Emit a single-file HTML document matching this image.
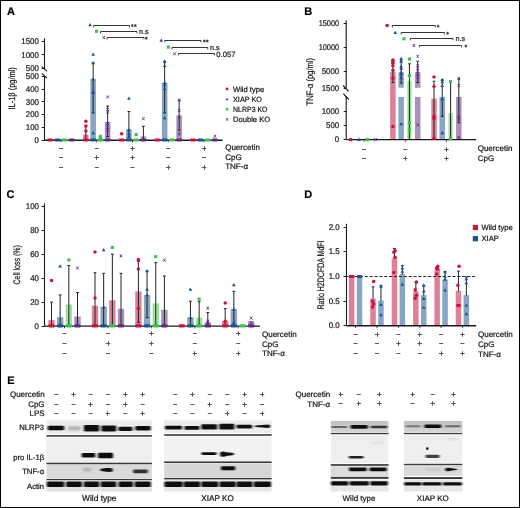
<!DOCTYPE html><html><head><meta charset="utf-8"><style>html,body{margin:0;padding:0;background:#fff}svg{display:block;will-change:transform}text{stroke:#1a1a1a;stroke-width:0.22px}</style></head><body><svg width="520" height="508" viewBox="0 0 520 508" font-family="Liberation Sans, sans-serif" text-rendering="geometricPrecision">
<rect x="0" y="0" width="520" height="508" fill="#fff" />
<defs><filter id="bl" x="-20%" y="-100%" width="140%" height="300%"><feGaussianBlur stdDeviation="0.95 0.55"/></filter><filter id="bl2" x="-20%" y="-100%" width="140%" height="300%"><feGaussianBlur stdDeviation="0.9"/></filter><linearGradient id="g1" x1="0" y1="0" x2="0" y2="1"><stop offset="0" stop-color="#c0c0c0"/><stop offset="0.4" stop-color="#c9c9c9"/><stop offset="1" stop-color="#d6d6d6"/></linearGradient></defs>
<text x="7" y="14.7" font-size="11" font-weight="bold" >A</text>
<text x="304.3" y="14.9" font-size="11" font-weight="bold" >B</text>
<text x="6.6" y="197.6" font-size="11" font-weight="bold" >C</text>
<text x="304.3" y="197.9" font-size="11" font-weight="bold" >D</text>
<text x="7.2" y="383.7" font-size="11" font-weight="bold" >E</text>
<line x1="44.5" y1="38.2" x2="44.5" y2="69.3" stroke="#1a1a1a" stroke-width="1.1" />
<line x1="44.5" y1="75.6" x2="44.5" y2="140.2" stroke="#1a1a1a" stroke-width="1.1" />
<line x1="41.9" y1="66.65" x2="46.9" y2="71.45" stroke="#1a1a1a" stroke-width="1.15" />
<line x1="41.9" y1="73.35" x2="46.9" y2="78.15" stroke="#1a1a1a" stroke-width="1.15" />
<line x1="41.7" y1="140.5" x2="44.5" y2="140.5" stroke="#1a1a1a" stroke-width="1" />
<text transform="translate(38.9,142.8) scale(0.95,1)" x="0" y="0" font-size="8.3" text-anchor="end" fill="#1a1a1a" >0</text>
<line x1="41.7" y1="127.5" x2="44.5" y2="127.5" stroke="#1a1a1a" stroke-width="1" />
<text transform="translate(38.9,130.06) scale(0.95,1)" x="0" y="0" font-size="8.3" text-anchor="end" fill="#1a1a1a" >100</text>
<line x1="41.7" y1="114.5" x2="44.5" y2="114.5" stroke="#1a1a1a" stroke-width="1" />
<text transform="translate(38.9,117.32) scale(0.95,1)" x="0" y="0" font-size="8.3" text-anchor="end" fill="#1a1a1a" >200</text>
<line x1="41.7" y1="101.5" x2="44.5" y2="101.5" stroke="#1a1a1a" stroke-width="1" />
<text transform="translate(38.9,104.58) scale(0.95,1)" x="0" y="0" font-size="8.3" text-anchor="end" fill="#1a1a1a" >300</text>
<line x1="41.7" y1="89.5" x2="44.5" y2="89.5" stroke="#1a1a1a" stroke-width="1" />
<text transform="translate(38.9,91.84) scale(0.95,1)" x="0" y="0" font-size="8.3" text-anchor="end" fill="#1a1a1a" >400</text>
<line x1="41.7" y1="76.5" x2="44.5" y2="76.5" stroke="#1a1a1a" stroke-width="1" />
<text transform="translate(38.9,78.7) scale(0.95,1)" x="0" y="0" font-size="8.3" text-anchor="end" fill="#1a1a1a" >500</text>
<line x1="41.7" y1="68.5" x2="44.5" y2="68.5" stroke="#1a1a1a" stroke-width="1" />
<text transform="translate(38.9,71) scale(0.95,1)" x="0" y="0" font-size="8.3" text-anchor="end" fill="#1a1a1a" >500</text>
<line x1="41.7" y1="54.5" x2="44.5" y2="54.5" stroke="#1a1a1a" stroke-width="1" />
<text transform="translate(38.9,57.5) scale(0.95,1)" x="0" y="0" font-size="8.3" text-anchor="end" fill="#1a1a1a" >1000</text>
<line x1="41.7" y1="41.5" x2="44.5" y2="41.5" stroke="#1a1a1a" stroke-width="1" />
<text transform="translate(38.9,43.8) scale(0.95,1)" x="0" y="0" font-size="8.3" text-anchor="end" fill="#1a1a1a" >1500</text>
<text transform="translate(15.3,88.35) rotate(-90) scale(0.8,1)" x="0" y="0" font-size="9.3" text-anchor="middle" fill="#1a1a1a">IL-1β (pg/ml)</text>
<rect x="83.05" y="134.59" width="5.6" height="5.61" fill="#de8196" />
<rect x="90.35" y="79.05" width="5.6" height="61.15" fill="#87a5c4" />
<rect x="104.85" y="121.98" width="5.6" height="18.22" fill="#aa8fbc" />
<rect x="97.55" y="139.18" width="5.6" height="1.02" fill="#9fe29f" />
<rect x="126.1" y="129.24" width="5.6" height="10.96" fill="#87a5c4" />
<rect x="140.6" y="136.38" width="5.6" height="3.82" fill="#aa8fbc" />
<rect x="118.8" y="139.18" width="5.6" height="1.02" fill="#de8196" />
<rect x="133.3" y="139.18" width="5.6" height="1.02" fill="#9fe29f" />
<rect x="161.85" y="82.87" width="5.6" height="57.33" fill="#87a5c4" />
<rect x="176.35" y="115.74" width="5.6" height="24.46" fill="#aa8fbc" />
<line x1="93.15" y1="62.9" x2="93.15" y2="112.9" stroke="#222" stroke-width="1" />
<line x1="91.75" y1="62.9" x2="94.55" y2="62.9" stroke="#222" stroke-width="1" />
<line x1="91.75" y1="112.9" x2="94.55" y2="112.9" stroke="#222" stroke-width="1" />
<line x1="107.65" y1="106" x2="107.65" y2="136.5" stroke="#222" stroke-width="1" />
<line x1="106.25" y1="106" x2="109.05" y2="106" stroke="#222" stroke-width="1" />
<line x1="106.25" y1="136.5" x2="109.05" y2="136.5" stroke="#222" stroke-width="1" />
<line x1="128.9" y1="111.5" x2="128.9" y2="138" stroke="#222" stroke-width="1" />
<line x1="127.5" y1="111.5" x2="130.3" y2="111.5" stroke="#222" stroke-width="1" />
<line x1="143.4" y1="126.3" x2="143.4" y2="139" stroke="#222" stroke-width="1" />
<line x1="142" y1="126.3" x2="144.8" y2="126.3" stroke="#222" stroke-width="1" />
<line x1="164.65" y1="62.2" x2="164.65" y2="112.9" stroke="#222" stroke-width="1" />
<line x1="163.25" y1="62.2" x2="166.05" y2="62.2" stroke="#222" stroke-width="1" />
<line x1="163.25" y1="112.9" x2="166.05" y2="112.9" stroke="#222" stroke-width="1" />
<line x1="179.15" y1="100.4" x2="179.15" y2="130.2" stroke="#222" stroke-width="1" />
<line x1="177.75" y1="100.4" x2="180.55" y2="100.4" stroke="#222" stroke-width="1" />
<line x1="177.75" y1="130.2" x2="180.55" y2="130.2" stroke="#222" stroke-width="1" />
<line x1="85.85" y1="126" x2="85.85" y2="139" stroke="#222" stroke-width="1" />
<line x1="44.5" y1="140.2" x2="222.7" y2="140.2" stroke="#1a1a1a" stroke-width="1.4" />
<line x1="61" y1="140.2" x2="61" y2="142.4" stroke="#1a1a1a" stroke-width="0.8" />
<line x1="96.75" y1="140.2" x2="96.75" y2="142.4" stroke="#1a1a1a" stroke-width="0.8" />
<line x1="132.5" y1="140.2" x2="132.5" y2="142.4" stroke="#1a1a1a" stroke-width="0.8" />
<line x1="168.25" y1="140.2" x2="168.25" y2="142.4" stroke="#1a1a1a" stroke-width="0.8" />
<line x1="204" y1="140.2" x2="204" y2="142.4" stroke="#1a1a1a" stroke-width="0.8" />
<rect x="47.1" y="138.4" width="6" height="3.2" rx="1.3" fill="#d0103a"/>
<rect x="54.4" y="138.4" width="6" height="3.2" rx="1.3" fill="#1b4f98"/>
<rect x="61.6" y="138.4" width="6" height="3.2" rx="1.3" fill="#35c445"/>
<rect x="68.9" y="138.4" width="6" height="3.2" rx="1.3" fill="#5e2a88"/>
<rect x="82.85" y="138.4" width="6" height="3.2" rx="1.3" fill="#d0103a"/>
<rect x="90.15" y="138.4" width="6" height="3.2" rx="1.3" fill="#1b4f98"/>
<rect x="97.35" y="138.4" width="6" height="3.2" rx="1.3" fill="#35c445"/>
<rect x="104.65" y="138.4" width="6" height="3.2" rx="1.3" fill="#5e2a88"/>
<rect x="118.6" y="138.4" width="6" height="3.2" rx="1.3" fill="#d0103a"/>
<rect x="125.9" y="138.4" width="6" height="3.2" rx="1.3" fill="#1b4f98"/>
<rect x="133.1" y="138.4" width="6" height="3.2" rx="1.3" fill="#35c445"/>
<rect x="140.4" y="138.4" width="6" height="3.2" rx="1.3" fill="#5e2a88"/>
<rect x="154.35" y="138.4" width="6" height="3.2" rx="1.3" fill="#d0103a"/>
<rect x="161.65" y="138.4" width="6" height="3.2" rx="1.3" fill="#1b4f98"/>
<rect x="168.85" y="138.4" width="6" height="3.2" rx="1.3" fill="#35c445"/>
<rect x="176.15" y="138.4" width="6" height="3.2" rx="1.3" fill="#5e2a88"/>
<rect x="190.1" y="138.4" width="6" height="3.2" rx="1.3" fill="#d0103a"/>
<rect x="197.4" y="138.4" width="6" height="3.2" rx="1.3" fill="#1b4f98"/>
<rect x="204.6" y="138.4" width="6" height="3.2" rx="1.3" fill="#35c445"/>
<rect x="211.9" y="138.4" width="6" height="3.2" rx="1.3" fill="#5e2a88"/>
<circle cx="85.85" cy="121.3" r="1.75" fill="#d0103a"/>
<circle cx="85.85" cy="125.9" r="1.75" fill="#d0103a"/>
<circle cx="85.85" cy="130.9" r="1.75" fill="#d0103a"/>
<path d="M93.15 52.58L95 55.78L91.3 55.78Z" fill="#1b4f98"/>
<path d="M93.15 61.08L95 64.28L91.3 64.28Z" fill="#1b4f98"/>
<path d="M93.15 77.28L95 80.48L91.3 80.48Z" fill="#1b4f98"/>
<path d="M93.15 89.78L95 92.98L91.3 92.98Z" fill="#1b4f98"/>
<path d="M93.15 90.78L95 93.98L91.3 93.98Z" fill="#1b4f98"/>
<path d="M93.15 131.08L95 134.28L91.3 134.28Z" fill="#1b4f98"/>
<rect x="98.8" y="134.83" width="3.1" height="3.1" fill="#35c445" />
<rect x="98.8" y="136.74" width="3.1" height="3.1" fill="#35c445" />
<path d="M106.45 95.5L108.85 98.5M108.85 95.5L106.45 98.5" stroke="#5e2a88" stroke-width="0.9" fill="none"/>
<path d="M106.45 108.1L108.85 111.1M108.85 108.1L106.45 111.1" stroke="#5e2a88" stroke-width="0.9" fill="none"/>
<path d="M106.45 110.5L108.85 113.5M108.85 110.5L106.45 113.5" stroke="#5e2a88" stroke-width="0.9" fill="none"/>
<path d="M106.45 122L108.85 125M108.85 122L106.45 125" stroke="#5e2a88" stroke-width="0.9" fill="none"/>
<path d="M106.45 125.8L108.85 128.8M108.85 125.8L106.45 128.8" stroke="#5e2a88" stroke-width="0.9" fill="none"/>
<path d="M106.45 128.7L108.85 131.7M108.85 128.7L106.45 131.7" stroke="#5e2a88" stroke-width="0.9" fill="none"/>
<circle cx="121.6" cy="133.7" r="1.75" fill="#d0103a"/>
<path d="M128.9 96.58L130.75 99.78L127.05 99.78Z" fill="#1b4f98"/>
<path d="M128.9 128.08L130.75 131.28L127.05 131.28Z" fill="#1b4f98"/>
<path d="M128.9 132.08L130.75 135.28L127.05 135.28Z" fill="#1b4f98"/>
<path d="M128.9 135.08L130.75 138.28L127.05 138.28Z" fill="#1b4f98"/>
<rect x="134.55" y="133.05" width="3.1" height="3.1" fill="#35c445" />
<path d="M142.2 117.2L144.6 120.2M144.6 117.2L142.2 120.2" stroke="#5e2a88" stroke-width="0.9" fill="none"/>
<path d="M164.65 59.28L166.5 62.48L162.8 62.48Z" fill="#1b4f98"/>
<path d="M164.65 63.88L166.5 67.08L162.8 67.08Z" fill="#1b4f98"/>
<path d="M164.65 80.78L166.5 83.98L162.8 83.98Z" fill="#1b4f98"/>
<path d="M164.65 83.08L166.5 86.28L162.8 86.28Z" fill="#1b4f98"/>
<path d="M164.65 86.88L166.5 90.08L162.8 90.08Z" fill="#1b4f98"/>
<path d="M164.65 110.08L166.5 113.28L162.8 113.28Z" fill="#1b4f98"/>
<path d="M164.65 116.08L166.5 119.28L162.8 119.28Z" fill="#1b4f98"/>
<path d="M177.95 98.5L180.35 101.5M180.35 98.5L177.95 101.5" stroke="#5e2a88" stroke-width="0.9" fill="none"/>
<path d="M177.95 108.9L180.35 111.9M180.35 108.9L177.95 111.9" stroke="#5e2a88" stroke-width="0.9" fill="none"/>
<path d="M177.95 115.2L180.35 118.2M180.35 115.2L177.95 118.2" stroke="#5e2a88" stroke-width="0.9" fill="none"/>
<path d="M177.95 132.5L180.35 135.5M180.35 132.5L177.95 135.5" stroke="#5e2a88" stroke-width="0.9" fill="none"/>
<path d="M213.7 134.8L216.1 137.8M216.1 134.8L213.7 137.8" stroke="#5e2a88" stroke-width="0.9" fill="none"/>
<path d="M90 23.08L91.85 26.28L88.15 26.28Z" fill="#1b4f98"/>
<path d="M93.7 27.3V25.5H129.5V27.3" stroke="#2a2a2a" stroke-width="0.95" fill="none"/>
<path d="M132.3 24.1L132.3 27.1M131 24.85L133.6 26.35M131 26.35L133.6 24.85" stroke="#333" stroke-width="0.85" fill="none"/>
<path d="M135.3 24.1L135.3 27.1M134 24.85L136.6 26.35M134 26.35L136.6 24.85" stroke="#333" stroke-width="0.85" fill="none"/>
<rect x="94.95" y="29.75" width="3.1" height="3.1" fill="#35c445" />
<path d="M100.5 33.3V31.5H137V33.3" stroke="#2a2a2a" stroke-width="0.95" fill="none"/>
<text x="139" y="33.7" font-size="7.2" fill="#333" >n.s</text>
<path d="M102.6 36.1L105 39.1M105 36.1L102.6 39.1" stroke="#5e2a88" stroke-width="0.9" fill="none"/>
<path d="M107 39.3V37.5H144V39.3" stroke="#2a2a2a" stroke-width="0.95" fill="none"/>
<path d="M146.3 36.7L146.3 39.7M145 37.45L147.6 38.95M145 38.95L147.6 37.45" stroke="#333" stroke-width="0.85" fill="none"/>
<path d="M161.2 38.48L163.05 41.68L159.35 41.68Z" fill="#1b4f98"/>
<path d="M164.8 42.3V40.5H201V42.3" stroke="#2a2a2a" stroke-width="0.95" fill="none"/>
<path d="M204.3 39.5L204.3 42.5M203 40.25L205.6 41.75M203 41.75L205.6 40.25" stroke="#333" stroke-width="0.85" fill="none"/>
<path d="M207.3 39.5L207.3 42.5M206 40.25L208.6 41.75M206 41.75L208.6 40.25" stroke="#333" stroke-width="0.85" fill="none"/>
<rect x="166.75" y="45.55" width="3.1" height="3.1" fill="#35c445" />
<path d="M172 49.3V47.5H207.7V49.3" stroke="#2a2a2a" stroke-width="0.95" fill="none"/>
<text x="210" y="49.5" font-size="7.2" fill="#333" >n.s</text>
<path d="M173.4 52.3L175.8 55.3M175.8 52.3L173.4 55.3" stroke="#5e2a88" stroke-width="0.9" fill="none"/>
<path d="M178.5 55.3V53.5H214.4V55.3" stroke="#2a2a2a" stroke-width="0.95" fill="none"/>
<text x="216.3" y="57.2" font-size="7.7" fill="#222" >0.057</text>
<circle cx="227.1" cy="89" r="1.4" fill="#d0103a"/>
<text x="233" y="91.7" font-size="7.6" fill="#111" >Wild type</text>
<path d="M227.1 97.66L228.58 100.22L225.62 100.22Z" fill="#1b4f98"/>
<text transform="translate(233,101.9) scale(0.96,1)" x="0" y="0" font-size="7.6" fill="#111" >XIAP KO</text>
<rect x="225.86" y="107.96" width="2.48" height="2.48" fill="#35c445" />
<text transform="translate(233,111.9) scale(0.92,1)" x="0" y="0" font-size="7.6" fill="#111" >NLRP3 KO</text>
<path d="M226.14 118.2L228.06 120.6M228.06 118.2L226.14 120.6" stroke="#5e2a88" stroke-width="0.9" fill="none"/>
<text x="233" y="122.1" font-size="7.6" fill="#111" >Double KO</text>
<line x1="59" y1="148.5" x2="63" y2="148.5" stroke="#5a5a5a" stroke-width="1" />
<line x1="94.75" y1="148.5" x2="98.75" y2="148.5" stroke="#5a5a5a" stroke-width="1" />
<line x1="130.3" y1="148.5" x2="134.7" y2="148.5" stroke="#555" stroke-width="1" />
<line x1="132.5" y1="146.3" x2="132.5" y2="150.7" stroke="#555" stroke-width="1" />
<line x1="166.25" y1="148.5" x2="170.25" y2="148.5" stroke="#5a5a5a" stroke-width="1" />
<line x1="201.8" y1="148.5" x2="206.2" y2="148.5" stroke="#555" stroke-width="1" />
<line x1="204.5" y1="146.3" x2="204.5" y2="150.7" stroke="#555" stroke-width="1" />
<line x1="59" y1="157.5" x2="63" y2="157.5" stroke="#5a5a5a" stroke-width="1" />
<line x1="94.55" y1="157.5" x2="98.95" y2="157.5" stroke="#555" stroke-width="1" />
<line x1="96.5" y1="155.3" x2="96.5" y2="159.7" stroke="#555" stroke-width="1" />
<line x1="130.3" y1="157.5" x2="134.7" y2="157.5" stroke="#555" stroke-width="1" />
<line x1="132.5" y1="155.3" x2="132.5" y2="159.7" stroke="#555" stroke-width="1" />
<line x1="166.25" y1="157.5" x2="170.25" y2="157.5" stroke="#5a5a5a" stroke-width="1" />
<line x1="202" y1="157.5" x2="206" y2="157.5" stroke="#5a5a5a" stroke-width="1" />
<line x1="59" y1="167.5" x2="63" y2="167.5" stroke="#5a5a5a" stroke-width="1" />
<line x1="94.75" y1="167.5" x2="98.75" y2="167.5" stroke="#5a5a5a" stroke-width="1" />
<line x1="130.5" y1="167.5" x2="134.5" y2="167.5" stroke="#5a5a5a" stroke-width="1" />
<line x1="166.05" y1="167.5" x2="170.45" y2="167.5" stroke="#555" stroke-width="1" />
<line x1="168.5" y1="165.3" x2="168.5" y2="169.7" stroke="#555" stroke-width="1" />
<line x1="201.8" y1="167.5" x2="206.2" y2="167.5" stroke="#555" stroke-width="1" />
<line x1="204.5" y1="165.3" x2="204.5" y2="169.7" stroke="#555" stroke-width="1" />
<text x="225.2" y="150.3" font-size="8" fill="#111" >Quercetin</text>
<text x="225.2" y="159.8" font-size="8" fill="#111" >CpG</text>
<text x="225.2" y="169.2" font-size="8" fill="#111" >TNF-α</text>
<line x1="346.2" y1="20.5" x2="346.2" y2="88.5" stroke="#3a3a3a" stroke-width="1.3" />
<line x1="346.2" y1="96.5" x2="346.2" y2="139.6" stroke="#3a3a3a" stroke-width="1.3" />
<line x1="343.1" y1="85.5" x2="348.6" y2="91.4" stroke="#1a1a1a" stroke-width="1.15" />
<line x1="343.3" y1="93.6" x2="348.8" y2="99.5" stroke="#1a1a1a" stroke-width="1.15" />
<line x1="343.7" y1="139.5" x2="346.5" y2="139.5" stroke="#1a1a1a" stroke-width="1" />
<text transform="translate(339.2,142.2) scale(0.95,1)" x="0" y="0" font-size="8.3" text-anchor="end" fill="#1a1a1a" >0</text>
<line x1="343.7" y1="125.5" x2="346.5" y2="125.5" stroke="#1a1a1a" stroke-width="1" />
<text transform="translate(339.2,128) scale(0.95,1)" x="0" y="0" font-size="8.3" text-anchor="end" fill="#1a1a1a" >500</text>
<line x1="343.7" y1="111.5" x2="346.5" y2="111.5" stroke="#1a1a1a" stroke-width="1" />
<text transform="translate(339.2,113.9) scale(0.95,1)" x="0" y="0" font-size="8.3" text-anchor="end" fill="#1a1a1a" >1000</text>
<line x1="343.7" y1="88.5" x2="346.5" y2="88.5" stroke="#1a1a1a" stroke-width="1" />
<text transform="translate(339.2,90.9) scale(0.95,1)" x="0" y="0" font-size="8.3" text-anchor="end" fill="#1a1a1a" >1500</text>
<line x1="343.7" y1="71.5" x2="346.5" y2="71.5" stroke="#1a1a1a" stroke-width="1" />
<text transform="translate(339.2,74.1) scale(0.95,1)" x="0" y="0" font-size="8.3" text-anchor="end" fill="#1a1a1a" >5000</text>
<line x1="343.7" y1="47.5" x2="346.5" y2="47.5" stroke="#1a1a1a" stroke-width="1" />
<text transform="translate(339.2,49.9) scale(0.89,1)" x="0" y="0" font-size="8.3" text-anchor="end" fill="#1a1a1a" >10000</text>
<line x1="343.7" y1="23.5" x2="346.5" y2="23.5" stroke="#1a1a1a" stroke-width="1" />
<text transform="translate(339.2,26.3) scale(0.89,1)" x="0" y="0" font-size="8.3" text-anchor="end" fill="#1a1a1a" >15000</text>
<text transform="translate(312.8,81.65) rotate(-90) scale(0.8,1)" x="0" y="0" font-size="9.5" text-anchor="middle" fill="#1a1a1a">TNF-α (pg/ml)</text>
<rect x="390.15" y="71.8" width="5.5" height="67.8" fill="#de8196" />
<rect x="398.4" y="72.3" width="5.5" height="15.4" fill="#87a5c4" />
<rect x="398.4" y="97" width="5.5" height="42.6" fill="#87a5c4" />
<rect x="407.35" y="80.8" width="4.2" height="58.8" fill="#9fe29f" />
<rect x="414.95" y="72.3" width="5.5" height="15.4" fill="#aa8fbc" />
<rect x="414.95" y="97" width="5.5" height="42.6" fill="#aa8fbc" />
<rect x="431.25" y="98.7" width="5.5" height="40.9" fill="#de8196" />
<rect x="439.5" y="96.9" width="5.5" height="42.7" fill="#87a5c4" />
<rect x="448.45" y="113" width="4.2" height="26.6" fill="#9fe29f" />
<rect x="456.05" y="96.9" width="5.5" height="42.7" fill="#aa8fbc" />
<line x1="392.9" y1="60.3" x2="392.9" y2="82.6" stroke="#222" stroke-width="1" />
<line x1="391.5" y1="60.3" x2="394.3" y2="60.3" stroke="#222" stroke-width="1" />
<line x1="391.5" y1="82.6" x2="394.3" y2="82.6" stroke="#222" stroke-width="1" />
<line x1="401.15" y1="60.8" x2="401.15" y2="83.1" stroke="#222" stroke-width="1" />
<line x1="399.75" y1="60.8" x2="402.55" y2="60.8" stroke="#222" stroke-width="1" />
<line x1="399.75" y1="83.1" x2="402.55" y2="83.1" stroke="#222" stroke-width="1" />
<line x1="409.45" y1="63.8" x2="409.45" y2="139.6" stroke="#333" stroke-width="1.1" />
<line x1="408.05" y1="63.8" x2="410.85" y2="63.8" stroke="#333" stroke-width="1.1" />
<line x1="417.7" y1="61.2" x2="417.7" y2="82.6" stroke="#222" stroke-width="1" />
<line x1="416.3" y1="61.2" x2="419.1" y2="61.2" stroke="#222" stroke-width="1" />
<line x1="416.3" y1="82.6" x2="419.1" y2="82.6" stroke="#222" stroke-width="1" />
<line x1="434" y1="81.2" x2="434" y2="139.6" stroke="#222" stroke-width="1" />
<line x1="432.6" y1="81.2" x2="435.4" y2="81.2" stroke="#222" stroke-width="1" />
<line x1="442.25" y1="79.8" x2="442.25" y2="116.3" stroke="#222" stroke-width="1" />
<line x1="440.85" y1="79.8" x2="443.65" y2="79.8" stroke="#222" stroke-width="1" />
<line x1="440.85" y1="116.3" x2="443.65" y2="116.3" stroke="#222" stroke-width="1" />
<line x1="450.55" y1="81.7" x2="450.55" y2="139.6" stroke="#333" stroke-width="1.1" />
<line x1="449.15" y1="81.7" x2="451.95" y2="81.7" stroke="#333" stroke-width="1.1" />
<line x1="458.8" y1="78.8" x2="458.8" y2="122.7" stroke="#222" stroke-width="1" />
<line x1="457.4" y1="78.8" x2="460.2" y2="78.8" stroke="#222" stroke-width="1" />
<line x1="457.4" y1="122.7" x2="460.2" y2="122.7" stroke="#222" stroke-width="1" />
<line x1="346.5" y1="139.6" x2="476.2" y2="139.6" stroke="#1a1a1a" stroke-width="1.4" />
<line x1="364" y1="139.6" x2="364" y2="141.8" stroke="#1a1a1a" stroke-width="0.8" />
<line x1="405.3" y1="139.6" x2="405.3" y2="141.8" stroke="#1a1a1a" stroke-width="0.8" />
<line x1="446.4" y1="139.6" x2="446.4" y2="141.8" stroke="#1a1a1a" stroke-width="0.8" />
<circle cx="350.8" cy="139.6" r="1.93" fill="#d0103a"/>
<path d="M359.05 137.49L361.09 141.01L357.01 141.01Z" fill="#1b4f98"/>
<rect x="365.64" y="137.89" width="3.41" height="3.41" fill="#35c445" />
<path d="M374.28 137.95L376.92 141.25M376.92 137.95L374.28 141.25" stroke="#5e2a88" stroke-width="0.9" fill="none"/>
<circle cx="392.9" cy="60" r="1.75" fill="#d0103a"/>
<circle cx="392.9" cy="61.5" r="1.75" fill="#d0103a"/>
<circle cx="392.9" cy="63.2" r="1.75" fill="#d0103a"/>
<circle cx="392.9" cy="65.8" r="1.75" fill="#d0103a"/>
<circle cx="392.9" cy="70.2" r="1.75" fill="#d0103a"/>
<circle cx="392.9" cy="78.2" r="1.75" fill="#d0103a"/>
<circle cx="392.9" cy="126.5" r="1.75" fill="#d0103a"/>
<path d="M401.15 56.78L403 59.98L399.3 59.98Z" fill="#1b4f98"/>
<path d="M401.15 59.58L403 62.78L399.3 62.78Z" fill="#1b4f98"/>
<path d="M401.15 64.58L403 67.78L399.3 67.78Z" fill="#1b4f98"/>
<path d="M401.15 66.78L403 69.98L399.3 69.98Z" fill="#1b4f98"/>
<path d="M401.15 70.38L403 73.58L399.3 73.58Z" fill="#1b4f98"/>
<path d="M401.15 72.08L403 75.28L399.3 75.28Z" fill="#1b4f98"/>
<path d="M401.15 76.08L403 79.28L399.3 79.28Z" fill="#1b4f98"/>
<path d="M401.15 122.08L403 125.28L399.3 125.28Z" fill="#1b4f98"/>
<rect x="407.9" y="57.45" width="3.1" height="3.1" fill="#35c445" />
<rect x="407.9" y="73.95" width="3.1" height="3.1" fill="#35c445" />
<rect x="407.9" y="121.25" width="3.1" height="3.1" fill="#35c445" />
<rect x="407.9" y="127.95" width="3.1" height="3.1" fill="#35c445" />
<path d="M416.5 54.8L418.9 57.8M418.9 54.8L416.5 57.8" stroke="#5e2a88" stroke-width="0.9" fill="none"/>
<path d="M416.5 64.1L418.9 67.1M418.9 64.1L416.5 67.1" stroke="#5e2a88" stroke-width="0.9" fill="none"/>
<path d="M416.5 66.5L418.9 69.5M418.9 66.5L416.5 69.5" stroke="#5e2a88" stroke-width="0.9" fill="none"/>
<path d="M416.5 69.5L418.9 72.5M418.9 69.5L416.5 72.5" stroke="#5e2a88" stroke-width="0.9" fill="none"/>
<path d="M416.5 72.5L418.9 75.5M418.9 72.5L416.5 75.5" stroke="#5e2a88" stroke-width="0.9" fill="none"/>
<path d="M416.5 75.6L418.9 78.6M418.9 75.6L416.5 78.6" stroke="#5e2a88" stroke-width="0.9" fill="none"/>
<path d="M416.5 123.5L418.9 126.5M418.9 123.5L416.5 126.5" stroke="#5e2a88" stroke-width="0.9" fill="none"/>
<circle cx="434" cy="76.9" r="1.75" fill="#d0103a"/>
<circle cx="434" cy="86.5" r="1.75" fill="#d0103a"/>
<circle cx="434" cy="116.5" r="1.75" fill="#d0103a"/>
<circle cx="434" cy="118.5" r="1.75" fill="#d0103a"/>
<circle cx="434" cy="138.6" r="1.75" fill="#d0103a"/>
<path d="M442.25 77.88L444.1 81.08L440.4 81.08Z" fill="#1b4f98"/>
<path d="M442.25 80.08L444.1 83.28L440.4 83.28Z" fill="#1b4f98"/>
<path d="M442.25 83.68L444.1 86.88L440.4 86.88Z" fill="#1b4f98"/>
<path d="M442.25 97.08L444.1 100.28L440.4 100.28Z" fill="#1b4f98"/>
<path d="M442.25 131.08L444.1 134.28L440.4 134.28Z" fill="#1b4f98"/>
<rect x="449" y="80.15" width="3.1" height="3.1" fill="#35c445" />
<rect x="449" y="137.25" width="3.1" height="3.1" fill="#35c445" />
<path d="M457.6 77L460 80M460 77L457.6 80" stroke="#5e2a88" stroke-width="0.9" fill="none"/>
<path d="M457.6 84.1L460 87.1M460 84.1L457.6 87.1" stroke="#5e2a88" stroke-width="0.9" fill="none"/>
<path d="M457.6 115.8L460 118.8M460 115.8L457.6 118.8" stroke="#5e2a88" stroke-width="0.9" fill="none"/>
<path d="M457.6 117.7L460 120.7M460 117.7L457.6 120.7" stroke="#5e2a88" stroke-width="0.9" fill="none"/>
<path d="M457.6 136L460 139M460 136L457.6 139" stroke="#5e2a88" stroke-width="0.9" fill="none"/>
<circle cx="387.1" cy="25.6" r="1.75" fill="#d0103a"/>
<path d="M392.3 27.3V25.5H435.3V27.3" stroke="#2a2a2a" stroke-width="0.95" fill="none"/>
<path d="M438.1 24.7L438.1 27.7M436.8 25.45L439.4 26.95M436.8 26.95L439.4 25.45" stroke="#333" stroke-width="0.85" fill="none"/>
<path d="M395.2 30.78L397.05 33.98L393.35 33.98Z" fill="#1b4f98"/>
<path d="M401.2 34.3V32.5H444.4V34.3" stroke="#2a2a2a" stroke-width="0.95" fill="none"/>
<path d="M447.6 31.8L447.6 34.8M446.3 32.55L448.9 34.05M446.3 34.05L448.9 32.55" stroke="#333" stroke-width="0.85" fill="none"/>
<rect x="402.45" y="37.25" width="3.1" height="3.1" fill="#35c445" />
<path d="M410.3 40.3V38.5H453V40.3" stroke="#2a2a2a" stroke-width="0.95" fill="none"/>
<text x="455.4" y="41.2" font-size="7.2" fill="#333" >n.s</text>
<path d="M412.8 44L415.2 47M415.2 44L412.8 47" stroke="#5e2a88" stroke-width="0.9" fill="none"/>
<path d="M419.4 47.3V45.5H461.6V47.3" stroke="#2a2a2a" stroke-width="0.95" fill="none"/>
<path d="M465.9 44.6L465.9 47.6M464.6 45.35L467.2 46.85M464.6 46.85L467.2 45.35" stroke="#333" stroke-width="0.85" fill="none"/>
<line x1="362" y1="149.5" x2="366" y2="149.5" stroke="#5a5a5a" stroke-width="1" />
<line x1="403.3" y1="149.5" x2="407.3" y2="149.5" stroke="#5a5a5a" stroke-width="1" />
<line x1="444.2" y1="149.5" x2="448.6" y2="149.5" stroke="#555" stroke-width="1" />
<line x1="446.5" y1="147.3" x2="446.5" y2="151.7" stroke="#555" stroke-width="1" />
<line x1="362" y1="158.5" x2="366" y2="158.5" stroke="#5a5a5a" stroke-width="1" />
<line x1="403.1" y1="158.5" x2="407.5" y2="158.5" stroke="#555" stroke-width="1" />
<line x1="405.5" y1="156.3" x2="405.5" y2="160.7" stroke="#555" stroke-width="1" />
<line x1="444.2" y1="158.5" x2="448.6" y2="158.5" stroke="#555" stroke-width="1" />
<line x1="446.5" y1="156.3" x2="446.5" y2="160.7" stroke="#555" stroke-width="1" />
<text x="477.7" y="150.9" font-size="8" fill="#111" >Quercetin</text>
<text x="477.7" y="161" font-size="8" fill="#111" >CpG</text>
<line x1="44.5" y1="203.4" x2="44.5" y2="326.1" stroke="#1a1a1a" stroke-width="1.1" />
<line x1="41.5" y1="326.5" x2="44.5" y2="326.5" stroke="#1a1a1a" stroke-width="1" />
<text transform="translate(38.9,328.7) scale(0.95,1)" x="0" y="0" font-size="8.3" text-anchor="end" fill="#1a1a1a" >0</text>
<line x1="41.5" y1="302.5" x2="44.5" y2="302.5" stroke="#1a1a1a" stroke-width="1" />
<text transform="translate(38.9,304.72) scale(0.95,1)" x="0" y="0" font-size="8.3" text-anchor="end" fill="#1a1a1a" >20</text>
<line x1="41.5" y1="278.5" x2="44.5" y2="278.5" stroke="#1a1a1a" stroke-width="1" />
<text transform="translate(38.9,280.74) scale(0.95,1)" x="0" y="0" font-size="8.3" text-anchor="end" fill="#1a1a1a" >40</text>
<line x1="41.5" y1="254.5" x2="44.5" y2="254.5" stroke="#1a1a1a" stroke-width="1" />
<text transform="translate(38.9,256.76) scale(0.95,1)" x="0" y="0" font-size="8.3" text-anchor="end" fill="#1a1a1a" >60</text>
<line x1="41.5" y1="230.5" x2="44.5" y2="230.5" stroke="#1a1a1a" stroke-width="1" />
<text transform="translate(38.9,232.78) scale(0.95,1)" x="0" y="0" font-size="8.3" text-anchor="end" fill="#1a1a1a" >80</text>
<line x1="41.5" y1="206.5" x2="44.5" y2="206.5" stroke="#1a1a1a" stroke-width="1" />
<text transform="translate(38.9,208.8) scale(0.95,1)" x="0" y="0" font-size="8.3" text-anchor="end" fill="#1a1a1a" >100</text>
<text transform="translate(20,264.8) rotate(-90) scale(0.74,1)" x="0" y="0" font-size="9.5" text-anchor="middle" fill="#1a1a1a">Cell loss (%)</text>
<rect x="48.3" y="320.11" width="6.4" height="6" fill="#de8196" />
<rect x="56.95" y="317.23" width="6.4" height="8.87" fill="#87a5c4" />
<rect x="65.65" y="304.52" width="6.4" height="21.58" fill="#9fe29f" />
<rect x="74.3" y="316.51" width="6.4" height="9.59" fill="#aa8fbc" />
<rect x="91.8" y="305.72" width="6.4" height="20.38" fill="#de8196" />
<rect x="100.45" y="306.92" width="6.4" height="19.18" fill="#87a5c4" />
<rect x="109.15" y="300.32" width="6.4" height="25.78" fill="#de8196" />
<rect x="117.8" y="308.71" width="6.4" height="17.39" fill="#aa8fbc" />
<rect x="135.2" y="291.33" width="6.4" height="34.77" fill="#de8196" />
<rect x="143.85" y="294.93" width="6.4" height="31.17" fill="#87a5c4" />
<rect x="152.55" y="303.32" width="6.4" height="22.78" fill="#9fe29f" />
<rect x="161.2" y="309.79" width="6.4" height="16.31" fill="#aa8fbc" />
<rect x="187.25" y="317.35" width="6.4" height="8.75" fill="#87a5c4" />
<rect x="195.95" y="317.59" width="6.4" height="8.51" fill="#9fe29f" />
<rect x="204.6" y="322.26" width="6.4" height="3.84" fill="#aa8fbc" />
<rect x="222" y="320.94" width="6.4" height="5.16" fill="#de8196" />
<rect x="230.65" y="308.95" width="6.4" height="17.15" fill="#87a5c4" />
<rect x="248" y="321.3" width="6.4" height="4.8" fill="#aa8fbc" />
<line x1="51.5" y1="302.12" x2="51.5" y2="326.1" stroke="#222" stroke-width="1" />
<line x1="50.1" y1="302.12" x2="52.9" y2="302.12" stroke="#222" stroke-width="1" />
<line x1="60.15" y1="294.93" x2="60.15" y2="326.1" stroke="#222" stroke-width="1" />
<line x1="58.75" y1="294.93" x2="61.55" y2="294.93" stroke="#222" stroke-width="1" />
<line x1="68.85" y1="265.55" x2="68.85" y2="326.1" stroke="#222" stroke-width="1" />
<line x1="67.45" y1="265.55" x2="70.25" y2="265.55" stroke="#222" stroke-width="1" />
<line x1="77.5" y1="292.53" x2="77.5" y2="326.1" stroke="#222" stroke-width="1" />
<line x1="76.1" y1="292.53" x2="78.9" y2="292.53" stroke="#222" stroke-width="1" />
<line x1="95" y1="272.74" x2="95" y2="326.1" stroke="#222" stroke-width="1" />
<line x1="93.6" y1="272.74" x2="96.4" y2="272.74" stroke="#222" stroke-width="1" />
<line x1="103.65" y1="273.34" x2="103.65" y2="326.1" stroke="#222" stroke-width="1" />
<line x1="102.25" y1="273.34" x2="105.05" y2="273.34" stroke="#222" stroke-width="1" />
<line x1="112.35" y1="254.16" x2="112.35" y2="326.1" stroke="#222" stroke-width="1" />
<line x1="110.95" y1="254.16" x2="113.75" y2="254.16" stroke="#222" stroke-width="1" />
<line x1="121" y1="273.34" x2="121" y2="326.1" stroke="#222" stroke-width="1" />
<line x1="119.6" y1="273.34" x2="122.4" y2="273.34" stroke="#222" stroke-width="1" />
<line x1="138.4" y1="260.16" x2="138.4" y2="322.3" stroke="#222" stroke-width="1" />
<line x1="137" y1="260.16" x2="139.8" y2="260.16" stroke="#222" stroke-width="1" />
<line x1="137" y1="322.3" x2="139.8" y2="322.3" stroke="#222" stroke-width="1" />
<line x1="147.05" y1="270.95" x2="147.05" y2="317.6" stroke="#222" stroke-width="1" />
<line x1="145.65" y1="270.95" x2="148.45" y2="270.95" stroke="#222" stroke-width="1" />
<line x1="145.65" y1="317.6" x2="148.45" y2="317.6" stroke="#222" stroke-width="1" />
<line x1="155.75" y1="262.55" x2="155.75" y2="326.1" stroke="#222" stroke-width="1" />
<line x1="154.35" y1="262.55" x2="157.15" y2="262.55" stroke="#222" stroke-width="1" />
<line x1="164.4" y1="275.98" x2="164.4" y2="326.1" stroke="#222" stroke-width="1" />
<line x1="163" y1="275.98" x2="165.8" y2="275.98" stroke="#222" stroke-width="1" />
<line x1="190.45" y1="301.28" x2="190.45" y2="326.1" stroke="#222" stroke-width="1" />
<line x1="189.05" y1="301.28" x2="191.85" y2="301.28" stroke="#222" stroke-width="1" />
<line x1="199.15" y1="301.64" x2="199.15" y2="326.1" stroke="#222" stroke-width="1" />
<line x1="197.75" y1="301.64" x2="200.55" y2="301.64" stroke="#222" stroke-width="1" />
<line x1="207.8" y1="312.55" x2="207.8" y2="326.1" stroke="#222" stroke-width="1" />
<line x1="206.4" y1="312.55" x2="209.2" y2="312.55" stroke="#222" stroke-width="1" />
<line x1="225.2" y1="308.59" x2="225.2" y2="326.1" stroke="#222" stroke-width="1" />
<line x1="223.8" y1="308.59" x2="226.6" y2="308.59" stroke="#222" stroke-width="1" />
<line x1="233.85" y1="291.33" x2="233.85" y2="326.1" stroke="#222" stroke-width="1" />
<line x1="232.45" y1="291.33" x2="235.25" y2="291.33" stroke="#222" stroke-width="1" />
<line x1="44.5" y1="326.1" x2="260" y2="326.1" stroke="#1a1a1a" stroke-width="1.4" />
<line x1="64.5" y1="326.1" x2="64.5" y2="328.3" stroke="#1a1a1a" stroke-width="0.8" />
<line x1="108" y1="326.1" x2="108" y2="328.3" stroke="#1a1a1a" stroke-width="0.8" />
<line x1="151.4" y1="326.1" x2="151.4" y2="328.3" stroke="#1a1a1a" stroke-width="0.8" />
<line x1="194.8" y1="326.1" x2="194.8" y2="328.3" stroke="#1a1a1a" stroke-width="0.8" />
<line x1="238.2" y1="326.1" x2="238.2" y2="328.3" stroke="#1a1a1a" stroke-width="0.8" />
<rect x="48.3" y="324.3" width="6.4" height="3.2" rx="1.3" fill="#d0103a"/>
<rect x="56.95" y="324.3" width="6.4" height="3.2" rx="1.3" fill="#1b4f98"/>
<rect x="65.65" y="324.3" width="6.4" height="3.2" rx="1.3" fill="#35c445"/>
<rect x="74.3" y="324.3" width="6.4" height="3.2" rx="1.3" fill="#5e2a88"/>
<rect x="91.8" y="324.3" width="6.4" height="3.2" rx="1.3" fill="#d0103a"/>
<rect x="100.45" y="324.3" width="6.4" height="3.2" rx="1.3" fill="#1b4f98"/>
<rect x="109.15" y="324.3" width="6.4" height="3.2" rx="1.3" fill="#35c445"/>
<rect x="117.8" y="324.3" width="6.4" height="3.2" rx="1.3" fill="#5e2a88"/>
<rect x="135.2" y="324.3" width="6.4" height="3.2" rx="1.3" fill="#d0103a"/>
<rect x="143.85" y="324.3" width="6.4" height="3.2" rx="1.3" fill="#1b4f98"/>
<rect x="152.55" y="324.3" width="6.4" height="3.2" rx="1.3" fill="#35c445"/>
<rect x="161.2" y="324.3" width="6.4" height="3.2" rx="1.3" fill="#5e2a88"/>
<rect x="178.6" y="324.3" width="6.4" height="3.2" rx="1.3" fill="#d0103a"/>
<rect x="187.25" y="324.3" width="6.4" height="3.2" rx="1.3" fill="#1b4f98"/>
<rect x="195.95" y="324.3" width="6.4" height="3.2" rx="1.3" fill="#35c445"/>
<rect x="204.6" y="324.3" width="6.4" height="3.2" rx="1.3" fill="#5e2a88"/>
<rect x="222" y="324.3" width="6.4" height="3.2" rx="1.3" fill="#d0103a"/>
<rect x="230.65" y="324.3" width="6.4" height="3.2" rx="1.3" fill="#1b4f98"/>
<rect x="239.35" y="324.3" width="6.4" height="3.2" rx="1.3" fill="#35c445"/>
<rect x="248" y="324.3" width="6.4" height="3.2" rx="1.3" fill="#5e2a88"/>
<circle cx="51.5" cy="280.54" r="1.75" fill="#d0103a"/>
<path d="M60.15 264.23L62 267.43L58.3 267.43Z" fill="#1b4f98"/>
<rect x="67.3" y="258.37" width="3.1" height="3.1" fill="#35c445" />
<path d="M76.3 266.45L78.7 269.45M78.7 266.45L76.3 269.45" stroke="#5e2a88" stroke-width="0.9" fill="none"/>
<circle cx="95" cy="252.12" r="1.75" fill="#d0103a"/>
<circle cx="95" cy="297.92" r="1.75" fill="#d0103a"/>
<path d="M103.65 248.04L105.5 251.24L101.8 251.24Z" fill="#1b4f98"/>
<path d="M103.65 305L105.5 308.2L101.8 308.2Z" fill="#1b4f98"/>
<rect x="110.8" y="245.9" width="3.1" height="3.1" fill="#35c445" />
<path d="M119.8 254.46L122.2 257.46M122.2 254.46L119.8 257.46" stroke="#5e2a88" stroke-width="0.9" fill="none"/>
<circle cx="138.4" cy="259.56" r="1.75" fill="#d0103a"/>
<circle cx="138.4" cy="260.75" r="1.75" fill="#d0103a"/>
<circle cx="138.4" cy="268.91" r="1.75" fill="#d0103a"/>
<circle cx="138.4" cy="308.47" r="1.75" fill="#d0103a"/>
<path d="M147.05 269.03L148.9 272.23L145.2 272.23Z" fill="#1b4f98"/>
<path d="M147.05 287.61L148.9 290.81L145.2 290.81Z" fill="#1b4f98"/>
<path d="M147.05 293.01L148.9 296.21L145.2 296.21Z" fill="#1b4f98"/>
<rect x="154.2" y="255.13" width="3.1" height="3.1" fill="#35c445" />
<path d="M163.2 258.66L165.6 261.66M165.6 258.66L163.2 261.66" stroke="#5e2a88" stroke-width="0.9" fill="none"/>
<path d="M190.45 287.61L192.3 290.81L188.6 290.81Z" fill="#1b4f98"/>
<path d="M190.45 315.79L192.3 318.99L188.6 318.99Z" fill="#1b4f98"/>
<rect x="197.6" y="297.57" width="3.1" height="3.1" fill="#35c445" />
<path d="M206.6 306.73L209 309.73M209 306.73L206.6 309.73" stroke="#5e2a88" stroke-width="0.9" fill="none"/>
<path d="M206.6 319.8L209 322.8M209 319.8L206.6 322.8" stroke="#5e2a88" stroke-width="0.9" fill="none"/>
<path d="M206.6 321L209 324M209 321L206.6 324" stroke="#5e2a88" stroke-width="0.9" fill="none"/>
<circle cx="225.2" cy="303.08" r="1.75" fill="#d0103a"/>
<circle cx="225.2" cy="321.3" r="1.75" fill="#d0103a"/>
<path d="M233.85 283.05L235.7 286.25L232 286.25Z" fill="#1b4f98"/>
<path d="M233.85 307.39L235.7 310.59L232 310.59Z" fill="#1b4f98"/>
<path d="M233.85 320.58L235.7 323.78L232 323.78Z" fill="#1b4f98"/>
<path d="M250 316.57L252.4 319.57M252.4 316.57L250 319.57" stroke="#5e2a88" stroke-width="0.9" fill="none"/>
<path d="M250 321L252.4 324M252.4 321L250 324" stroke="#5e2a88" stroke-width="0.9" fill="none"/>
<line x1="62.5" y1="333.5" x2="66.5" y2="333.5" stroke="#5a5a5a" stroke-width="1" />
<line x1="106" y1="333.5" x2="110" y2="333.5" stroke="#5a5a5a" stroke-width="1" />
<line x1="149.2" y1="333.5" x2="153.6" y2="333.5" stroke="#555" stroke-width="1" />
<line x1="151.5" y1="331.3" x2="151.5" y2="335.7" stroke="#555" stroke-width="1" />
<line x1="192.8" y1="333.5" x2="196.8" y2="333.5" stroke="#5a5a5a" stroke-width="1" />
<line x1="236" y1="333.5" x2="240.4" y2="333.5" stroke="#555" stroke-width="1" />
<line x1="238.5" y1="331.3" x2="238.5" y2="335.7" stroke="#555" stroke-width="1" />
<line x1="62.5" y1="343.5" x2="66.5" y2="343.5" stroke="#5a5a5a" stroke-width="1" />
<line x1="105.8" y1="343.5" x2="110.2" y2="343.5" stroke="#555" stroke-width="1" />
<line x1="108.5" y1="341.3" x2="108.5" y2="345.7" stroke="#555" stroke-width="1" />
<line x1="149.2" y1="343.5" x2="153.6" y2="343.5" stroke="#555" stroke-width="1" />
<line x1="151.5" y1="341.3" x2="151.5" y2="345.7" stroke="#555" stroke-width="1" />
<line x1="192.8" y1="343.5" x2="196.8" y2="343.5" stroke="#5a5a5a" stroke-width="1" />
<line x1="236.2" y1="343.5" x2="240.2" y2="343.5" stroke="#5a5a5a" stroke-width="1" />
<line x1="62.5" y1="353.5" x2="66.5" y2="353.5" stroke="#5a5a5a" stroke-width="1" />
<line x1="106" y1="353.5" x2="110" y2="353.5" stroke="#5a5a5a" stroke-width="1" />
<line x1="149.4" y1="353.5" x2="153.4" y2="353.5" stroke="#5a5a5a" stroke-width="1" />
<line x1="192.6" y1="353.5" x2="197" y2="353.5" stroke="#555" stroke-width="1" />
<line x1="194.5" y1="351.3" x2="194.5" y2="355.7" stroke="#555" stroke-width="1" />
<line x1="236" y1="353.5" x2="240.4" y2="353.5" stroke="#555" stroke-width="1" />
<line x1="238.5" y1="351.3" x2="238.5" y2="355.7" stroke="#555" stroke-width="1" />
<text x="262" y="337.1" font-size="8" fill="#111" >Quercetin</text>
<text x="262" y="346.5" font-size="8" fill="#111" >CpG</text>
<text x="262" y="356.4" font-size="8" fill="#111" >TNF-α</text>
<line x1="346.5" y1="223.8" x2="346.5" y2="325.8" stroke="#1a1a1a" stroke-width="1.1" />
<line x1="343.5" y1="325.5" x2="346.5" y2="325.5" stroke="#1a1a1a" stroke-width="1" />
<text transform="translate(339.6,328.4) scale(0.95,1)" x="0" y="0" font-size="8.3" text-anchor="end" fill="#1a1a1a" >0.0</text>
<line x1="343.5" y1="301.5" x2="346.5" y2="301.5" stroke="#1a1a1a" stroke-width="1" />
<text transform="translate(339.6,303.75) scale(0.95,1)" x="0" y="0" font-size="8.3" text-anchor="end" fill="#1a1a1a" >0.5</text>
<line x1="343.5" y1="276.5" x2="346.5" y2="276.5" stroke="#1a1a1a" stroke-width="1" />
<text transform="translate(339.6,279.1) scale(0.95,1)" x="0" y="0" font-size="8.3" text-anchor="end" fill="#1a1a1a" >1.0</text>
<line x1="343.5" y1="251.5" x2="346.5" y2="251.5" stroke="#1a1a1a" stroke-width="1" />
<text transform="translate(339.6,254.45) scale(0.95,1)" x="0" y="0" font-size="8.3" text-anchor="end" fill="#1a1a1a" >1.5</text>
<line x1="343.5" y1="227.5" x2="346.5" y2="227.5" stroke="#1a1a1a" stroke-width="1" />
<text transform="translate(339.6,229.8) scale(0.95,1)" x="0" y="0" font-size="8.3" text-anchor="end" fill="#1a1a1a" >2.0</text>
<text transform="translate(323.6,275) rotate(-90) scale(0.74,1)" x="0" y="0" font-size="9.5" text-anchor="middle" fill="#1a1a1a">Ratio H2DCFDA MdFI</text>
<rect x="348.9" y="276.5" width="5.5" height="49.3" fill="#de8196" />
<rect x="356.8" y="276.5" width="5.5" height="49.3" fill="#87a5c4" />
<rect x="370.3" y="298.69" width="5.5" height="27.12" fill="#de8196" />
<rect x="378.2" y="300.66" width="5.5" height="25.14" fill="#87a5c4" />
<rect x="391.7" y="258.26" width="5.5" height="67.54" fill="#de8196" />
<rect x="399.6" y="274.04" width="5.5" height="51.76" fill="#87a5c4" />
<rect x="413.1" y="291.29" width="5.5" height="34.51" fill="#de8196" />
<rect x="421" y="295.23" width="5.5" height="30.57" fill="#87a5c4" />
<rect x="434.4" y="269.11" width="5.5" height="56.69" fill="#de8196" />
<rect x="442.3" y="279.46" width="5.5" height="46.34" fill="#87a5c4" />
<rect x="455.7" y="290.8" width="5.5" height="35" fill="#de8196" />
<rect x="463.6" y="295.23" width="5.5" height="30.57" fill="#87a5c4" />
<line x1="346.5" y1="276.5" x2="476.8" y2="276.5" stroke="#2a2a2a" stroke-width="1.1" stroke-dasharray="3.1,1.77" stroke-dashoffset="1.2"/>
<line x1="373.05" y1="286.85" x2="373.05" y2="299.19" stroke="#222" stroke-width="1" />
<line x1="371.65" y1="286.85" x2="374.45" y2="286.85" stroke="#222" stroke-width="1" />
<line x1="380.95" y1="285.37" x2="380.95" y2="301.16" stroke="#222" stroke-width="1" />
<line x1="379.55" y1="285.37" x2="382.35" y2="285.37" stroke="#222" stroke-width="1" />
<line x1="394.45" y1="248.4" x2="394.45" y2="258.76" stroke="#222" stroke-width="1" />
<line x1="393.05" y1="248.4" x2="395.85" y2="248.4" stroke="#222" stroke-width="1" />
<line x1="402.35" y1="265.65" x2="402.35" y2="274.54" stroke="#222" stroke-width="1" />
<line x1="400.95" y1="265.65" x2="403.75" y2="265.65" stroke="#222" stroke-width="1" />
<line x1="415.85" y1="281.92" x2="415.85" y2="291.79" stroke="#222" stroke-width="1" />
<line x1="414.45" y1="281.92" x2="417.25" y2="281.92" stroke="#222" stroke-width="1" />
<line x1="423.75" y1="285.37" x2="423.75" y2="295.73" stroke="#222" stroke-width="1" />
<line x1="422.35" y1="285.37" x2="425.15" y2="285.37" stroke="#222" stroke-width="1" />
<line x1="445.05" y1="271.57" x2="445.05" y2="279.96" stroke="#222" stroke-width="1" />
<line x1="443.65" y1="271.57" x2="446.45" y2="271.57" stroke="#222" stroke-width="1" />
<line x1="458.45" y1="271.08" x2="458.45" y2="291.3" stroke="#222" stroke-width="1" />
<line x1="457.05" y1="271.08" x2="459.85" y2="271.08" stroke="#222" stroke-width="1" />
<line x1="466.35" y1="276.99" x2="466.35" y2="295.73" stroke="#222" stroke-width="1" />
<line x1="464.95" y1="276.99" x2="467.75" y2="276.99" stroke="#222" stroke-width="1" />
<line x1="346.5" y1="325.8" x2="476.2" y2="325.8" stroke="#1a1a1a" stroke-width="1.4" />
<line x1="355.6" y1="325.8" x2="355.6" y2="328" stroke="#1a1a1a" stroke-width="0.8" />
<line x1="377" y1="325.8" x2="377" y2="328" stroke="#1a1a1a" stroke-width="0.8" />
<line x1="398.4" y1="325.8" x2="398.4" y2="328" stroke="#1a1a1a" stroke-width="0.8" />
<line x1="419.8" y1="325.8" x2="419.8" y2="328" stroke="#1a1a1a" stroke-width="0.8" />
<line x1="441.1" y1="325.8" x2="441.1" y2="328" stroke="#1a1a1a" stroke-width="0.8" />
<line x1="462.4" y1="325.8" x2="462.4" y2="328" stroke="#1a1a1a" stroke-width="0.8" />
<rect x="348.65" y="275.1" width="6" height="3" rx="1.3" fill="#d0103a"/>
<rect x="356.75" y="275.1" width="5.6" height="3" rx="1.3" fill="#1b4f98"/>
<circle cx="373.65" cy="281.43" r="1.75" fill="#d0103a"/>
<circle cx="372.45" cy="301.15" r="1.75" fill="#d0103a"/>
<circle cx="373.65" cy="304.11" r="1.75" fill="#d0103a"/>
<circle cx="372.45" cy="307.07" r="1.75" fill="#d0103a"/>
<path d="M380.95 284.44L382.8 287.64L379.1 287.64Z" fill="#1b4f98"/>
<path d="M380.95 302.68L382.8 305.88L379.1 305.88Z" fill="#1b4f98"/>
<path d="M380.95 313.03L382.8 316.23L379.1 316.23Z" fill="#1b4f98"/>
<circle cx="395.05" cy="250.86" r="1.75" fill="#d0103a"/>
<circle cx="393.85" cy="252.34" r="1.75" fill="#d0103a"/>
<circle cx="395.05" cy="257.27" r="1.75" fill="#d0103a"/>
<circle cx="393.85" cy="272.56" r="1.75" fill="#d0103a"/>
<path d="M402.35 266.2L404.2 269.4L400.5 269.4Z" fill="#1b4f98"/>
<path d="M402.35 269.65L404.2 272.85L400.5 272.85Z" fill="#1b4f98"/>
<path d="M402.35 282.47L404.2 285.67L400.5 285.67Z" fill="#1b4f98"/>
<circle cx="416.45" cy="281.92" r="1.75" fill="#d0103a"/>
<circle cx="415.25" cy="289.81" r="1.75" fill="#d0103a"/>
<circle cx="416.45" cy="295.23" r="1.75" fill="#d0103a"/>
<circle cx="415.25" cy="298.19" r="1.75" fill="#d0103a"/>
<path d="M423.75 283.45L425.6 286.65L421.9 286.65Z" fill="#1b4f98"/>
<path d="M423.75 289.37L425.6 292.57L421.9 292.57Z" fill="#1b4f98"/>
<path d="M423.75 296.76L425.6 299.96L421.9 299.96Z" fill="#1b4f98"/>
<path d="M423.75 305.64L425.6 308.84L421.9 308.84Z" fill="#1b4f98"/>
<circle cx="437.75" cy="266.15" r="1.75" fill="#d0103a"/>
<circle cx="436.55" cy="268.12" r="1.75" fill="#d0103a"/>
<circle cx="437.75" cy="269.11" r="1.75" fill="#d0103a"/>
<circle cx="436.55" cy="274.04" r="1.75" fill="#d0103a"/>
<path d="M445.05 270.14L446.9 273.34L443.2 273.34Z" fill="#1b4f98"/>
<path d="M445.05 274.58L446.9 277.78L443.2 277.78Z" fill="#1b4f98"/>
<path d="M445.05 277.54L446.9 280.74L443.2 280.74Z" fill="#1b4f98"/>
<path d="M445.05 288.38L446.9 291.58L443.2 291.58Z" fill="#1b4f98"/>
<circle cx="459.05" cy="266.15" r="1.75" fill="#d0103a"/>
<circle cx="457.85" cy="285.37" r="1.75" fill="#d0103a"/>
<circle cx="459.05" cy="305.59" r="1.75" fill="#d0103a"/>
<circle cx="457.85" cy="305.59" r="1.75" fill="#d0103a"/>
<path d="M466.35 277.05L468.2 280.25L464.5 280.25Z" fill="#1b4f98"/>
<path d="M466.35 280.99L468.2 284.19L464.5 284.19Z" fill="#1b4f98"/>
<path d="M466.35 303.67L468.2 306.87L464.5 306.87Z" fill="#1b4f98"/>
<path d="M466.35 312.05L468.2 315.25L464.5 315.25Z" fill="#1b4f98"/>
<line x1="353.6" y1="334.5" x2="357.6" y2="334.5" stroke="#5a5a5a" stroke-width="1" />
<line x1="374.8" y1="334.5" x2="379.2" y2="334.5" stroke="#555" stroke-width="1" />
<line x1="377.5" y1="332.3" x2="377.5" y2="336.7" stroke="#555" stroke-width="1" />
<line x1="396.4" y1="334.5" x2="400.4" y2="334.5" stroke="#5a5a5a" stroke-width="1" />
<line x1="417.6" y1="334.5" x2="422" y2="334.5" stroke="#555" stroke-width="1" />
<line x1="419.5" y1="332.3" x2="419.5" y2="336.7" stroke="#555" stroke-width="1" />
<line x1="439.1" y1="334.5" x2="443.1" y2="334.5" stroke="#5a5a5a" stroke-width="1" />
<line x1="460.2" y1="334.5" x2="464.6" y2="334.5" stroke="#555" stroke-width="1" />
<line x1="462.5" y1="332.3" x2="462.5" y2="336.7" stroke="#555" stroke-width="1" />
<line x1="353.6" y1="343.5" x2="357.6" y2="343.5" stroke="#5a5a5a" stroke-width="1" />
<line x1="375" y1="343.5" x2="379" y2="343.5" stroke="#5a5a5a" stroke-width="1" />
<line x1="396.2" y1="343.5" x2="400.6" y2="343.5" stroke="#555" stroke-width="1" />
<line x1="398.5" y1="341.3" x2="398.5" y2="345.7" stroke="#555" stroke-width="1" />
<line x1="417.6" y1="343.5" x2="422" y2="343.5" stroke="#555" stroke-width="1" />
<line x1="419.5" y1="341.3" x2="419.5" y2="345.7" stroke="#555" stroke-width="1" />
<line x1="439.1" y1="343.5" x2="443.1" y2="343.5" stroke="#5a5a5a" stroke-width="1" />
<line x1="460.4" y1="343.5" x2="464.4" y2="343.5" stroke="#5a5a5a" stroke-width="1" />
<line x1="353.6" y1="353.5" x2="357.6" y2="353.5" stroke="#5a5a5a" stroke-width="1" />
<line x1="375" y1="353.5" x2="379" y2="353.5" stroke="#5a5a5a" stroke-width="1" />
<line x1="396.4" y1="353.5" x2="400.4" y2="353.5" stroke="#5a5a5a" stroke-width="1" />
<line x1="417.8" y1="353.5" x2="421.8" y2="353.5" stroke="#5a5a5a" stroke-width="1" />
<line x1="438.9" y1="353.5" x2="443.3" y2="353.5" stroke="#555" stroke-width="1" />
<line x1="441.5" y1="351.3" x2="441.5" y2="355.7" stroke="#555" stroke-width="1" />
<line x1="460.2" y1="353.5" x2="464.6" y2="353.5" stroke="#555" stroke-width="1" />
<line x1="462.5" y1="351.3" x2="462.5" y2="355.7" stroke="#555" stroke-width="1" />
<text x="478" y="336.8" font-size="8" fill="#111" >Quercetin</text>
<text x="478" y="347" font-size="8" fill="#111" >CpG</text>
<text x="478" y="356.8" font-size="8" fill="#111" >TNF-α</text>
<rect x="472.8" y="224.9" width="5.2" height="5.2" fill="#d0103a" />
<text x="481.5" y="230.3" font-size="7.6" fill="#111" >Wild type</text>
<rect x="472.8" y="236.1" width="5.2" height="5.2" fill="#1b4f98" />
<text x="481.5" y="241.3" font-size="7.6" fill="#111" >XIAP</text>
<text x="44.6" y="397.1" font-size="8" text-anchor="end" fill="#111" >Quercetin</text>
<text x="44.6" y="406.9" font-size="8" text-anchor="end" fill="#111" >CpG</text>
<text x="44.6" y="416.2" font-size="8" text-anchor="end" fill="#111" >LPS</text>
<text x="44.1" y="430.4" font-size="7.7" text-anchor="end" fill="#111" >NLRP3</text>
<text x="44.1" y="459.9" font-size="7.7" text-anchor="end" fill="#111" >pro IL-1β</text>
<text x="44.1" y="473.7" font-size="7.7" text-anchor="end" fill="#111" >TNF-α</text>
<text x="44.1" y="488.7" font-size="7.7" text-anchor="end" fill="#111" >Actin</text>
<line x1="54.3" y1="394.5" x2="58.3" y2="394.5" stroke="#5a5a5a" stroke-width="1" />
<line x1="173.2" y1="394.5" x2="177.2" y2="394.5" stroke="#5a5a5a" stroke-width="1" />
<line x1="71.3" y1="394.5" x2="75.7" y2="394.5" stroke="#555" stroke-width="1" />
<line x1="73.5" y1="392.3" x2="73.5" y2="396.7" stroke="#555" stroke-width="1" />
<line x1="190.2" y1="394.5" x2="194.6" y2="394.5" stroke="#555" stroke-width="1" />
<line x1="192.5" y1="392.3" x2="192.5" y2="396.7" stroke="#555" stroke-width="1" />
<line x1="88.6" y1="394.5" x2="92.6" y2="394.5" stroke="#5a5a5a" stroke-width="1" />
<line x1="207.8" y1="394.5" x2="211.8" y2="394.5" stroke="#5a5a5a" stroke-width="1" />
<line x1="105.9" y1="394.5" x2="109.9" y2="394.5" stroke="#5a5a5a" stroke-width="1" />
<line x1="225.2" y1="394.5" x2="229.2" y2="394.5" stroke="#5a5a5a" stroke-width="1" />
<line x1="123.1" y1="394.5" x2="127.5" y2="394.5" stroke="#555" stroke-width="1" />
<line x1="125.5" y1="392.3" x2="125.5" y2="396.7" stroke="#555" stroke-width="1" />
<line x1="242.4" y1="394.5" x2="246.8" y2="394.5" stroke="#555" stroke-width="1" />
<line x1="244.5" y1="392.3" x2="244.5" y2="396.7" stroke="#555" stroke-width="1" />
<line x1="140.4" y1="394.5" x2="144.8" y2="394.5" stroke="#555" stroke-width="1" />
<line x1="142.5" y1="392.3" x2="142.5" y2="396.7" stroke="#555" stroke-width="1" />
<line x1="259.8" y1="394.5" x2="264.2" y2="394.5" stroke="#555" stroke-width="1" />
<line x1="262.5" y1="392.3" x2="262.5" y2="396.7" stroke="#555" stroke-width="1" />
<line x1="54.3" y1="404.5" x2="58.3" y2="404.5" stroke="#5a5a5a" stroke-width="1" />
<line x1="173.2" y1="404.5" x2="177.2" y2="404.5" stroke="#5a5a5a" stroke-width="1" />
<line x1="71.5" y1="404.5" x2="75.5" y2="404.5" stroke="#5a5a5a" stroke-width="1" />
<line x1="190.4" y1="404.5" x2="194.4" y2="404.5" stroke="#5a5a5a" stroke-width="1" />
<line x1="88.4" y1="404.5" x2="92.8" y2="404.5" stroke="#555" stroke-width="1" />
<line x1="90.5" y1="402.3" x2="90.5" y2="406.7" stroke="#555" stroke-width="1" />
<line x1="207.6" y1="404.5" x2="212" y2="404.5" stroke="#555" stroke-width="1" />
<line x1="209.5" y1="402.3" x2="209.5" y2="406.7" stroke="#555" stroke-width="1" />
<line x1="105.9" y1="404.5" x2="109.9" y2="404.5" stroke="#5a5a5a" stroke-width="1" />
<line x1="225.2" y1="404.5" x2="229.2" y2="404.5" stroke="#5a5a5a" stroke-width="1" />
<line x1="123.1" y1="404.5" x2="127.5" y2="404.5" stroke="#555" stroke-width="1" />
<line x1="125.5" y1="402.3" x2="125.5" y2="406.7" stroke="#555" stroke-width="1" />
<line x1="242.4" y1="404.5" x2="246.8" y2="404.5" stroke="#555" stroke-width="1" />
<line x1="244.5" y1="402.3" x2="244.5" y2="406.7" stroke="#555" stroke-width="1" />
<line x1="140.6" y1="404.5" x2="144.6" y2="404.5" stroke="#5a5a5a" stroke-width="1" />
<line x1="260" y1="404.5" x2="264" y2="404.5" stroke="#5a5a5a" stroke-width="1" />
<line x1="54.3" y1="413.5" x2="58.3" y2="413.5" stroke="#5a5a5a" stroke-width="1" />
<line x1="173.2" y1="413.5" x2="177.2" y2="413.5" stroke="#5a5a5a" stroke-width="1" />
<line x1="71.5" y1="413.5" x2="75.5" y2="413.5" stroke="#5a5a5a" stroke-width="1" />
<line x1="190.4" y1="413.5" x2="194.4" y2="413.5" stroke="#5a5a5a" stroke-width="1" />
<line x1="88.6" y1="413.5" x2="92.6" y2="413.5" stroke="#5a5a5a" stroke-width="1" />
<line x1="207.8" y1="413.5" x2="211.8" y2="413.5" stroke="#5a5a5a" stroke-width="1" />
<line x1="105.7" y1="413.5" x2="110.1" y2="413.5" stroke="#555" stroke-width="1" />
<line x1="107.5" y1="411.3" x2="107.5" y2="415.7" stroke="#555" stroke-width="1" />
<line x1="225" y1="413.5" x2="229.4" y2="413.5" stroke="#555" stroke-width="1" />
<line x1="227.5" y1="411.3" x2="227.5" y2="415.7" stroke="#555" stroke-width="1" />
<line x1="123.3" y1="413.5" x2="127.3" y2="413.5" stroke="#5a5a5a" stroke-width="1" />
<line x1="242.6" y1="413.5" x2="246.6" y2="413.5" stroke="#5a5a5a" stroke-width="1" />
<line x1="140.4" y1="413.5" x2="144.8" y2="413.5" stroke="#555" stroke-width="1" />
<line x1="142.5" y1="411.3" x2="142.5" y2="415.7" stroke="#555" stroke-width="1" />
<line x1="259.8" y1="413.5" x2="264.2" y2="413.5" stroke="#555" stroke-width="1" />
<line x1="262.5" y1="411.3" x2="262.5" y2="415.7" stroke="#555" stroke-width="1" />
<rect x="46.5" y="420.3" width="105.4" height="13.7" fill="#ececec" />
<rect x="46.5" y="435.1" width="105.4" height="1.6" fill="#3a3a3a" />
<rect x="46.5" y="437.5" width="105.4" height="24.8" fill="#efefef" />
<rect x="46.5" y="462.7" width="105.4" height="1.6" fill="#3a3a3a" />
<rect x="46.5" y="465" width="105.4" height="13.3" fill="#d9d9d9" />
<rect x="46.5" y="478.9" width="105.4" height="1.5" fill="#3a3a3a" />
<rect x="46.5" y="480.4" width="105.4" height="11.1" fill="#e3e3e3" />
<rect x="47.7" y="425.65" width="16.5" height="4.7" rx="1.1" fill="#111" filter="url(#bl)"/>
<rect x="67.8" y="426.6" width="12.9" height="3.6" rx="1.1" fill="#ababab" filter="url(#bl2)"/>
<rect x="83.9" y="424.95" width="15.4" height="6.5" rx="1.1" fill="#111" filter="url(#bl)"/>
<rect x="101.3" y="425.4" width="15" height="6" rx="1.1" fill="#111" filter="url(#bl)"/>
<rect x="118.4" y="426.7" width="14.2" height="4.2" rx="1.1" fill="#111" filter="url(#bl)"/>
<rect x="135.2" y="425.95" width="15.5" height="4.5" rx="1.1" fill="#111" filter="url(#bl)"/>
<rect x="81.7" y="453.05" width="13.6" height="4.5" rx="1.1" fill="#111" filter="url(#bl)"/>
<rect x="98" y="452.85" width="15" height="5.5" rx="1.1" fill="#111" filter="url(#bl)"/>
<rect x="83" y="468.3" width="8.2" height="2.6" rx="1.1" fill="#a8a8a8" filter="url(#bl2)"/>
<path d="M100.2 469.9 C100.2 468.6 104 468.4 107 468.1 L110.6 467.9 C112.4 467.9 112.6 468.8 112.6 469.9 C112.6 471 112.4 471.9 110.6 471.9 L107 471.7 C104 471.4 100.2 471.2 100.2 469.9Z" fill="#0d0d0d" filter="url(#bl)"/>
<rect x="133" y="469.6" width="14.8" height="3.6" rx="1.1" fill="#333" filter="url(#bl)"/>
<rect x="46.8" y="481.6" width="17.5" height="5.4" rx="1.1" fill="#111" filter="url(#bl)"/>
<rect x="66.1" y="481.6" width="15.9" height="5.4" rx="1.1" fill="#111" filter="url(#bl)"/>
<rect x="83.8" y="481.6" width="15.5" height="5.4" rx="1.1" fill="#111" filter="url(#bl)"/>
<rect x="100.8" y="481.6" width="15.5" height="5.4" rx="1.1" fill="#111" filter="url(#bl)"/>
<rect x="118.5" y="481.6" width="14.5" height="5.4" rx="1.1" fill="#111" filter="url(#bl)"/>
<rect x="134.7" y="481.6" width="16.1" height="5.4" rx="1.1" fill="#111" filter="url(#bl)"/>
<text x="99.3" y="501.2" font-size="8.4" text-anchor="middle" fill="#111" >Wild type</text>
<rect x="164.2" y="420.4" width="107.4" height="12.8" fill="#ececec" />
<rect x="164.2" y="434.2" width="107.4" height="1.6" fill="#3a3a3a" />
<rect x="164.2" y="436.8" width="107.4" height="24.2" fill="#f2f2f2" />
<rect x="164.2" y="461.4" width="107.4" height="1.6" fill="#3a3a3a" />
<rect x="164.2" y="463.4" width="107.4" height="14" fill="#d6d6d6" />
<rect x="164.2" y="477.9" width="107.4" height="1.6" fill="#3a3a3a" />
<rect x="164.2" y="479.8" width="107.4" height="11.6" fill="#e6e6e6" />
<rect x="165" y="425.7" width="17" height="3.8" rx="1.1" fill="#111" filter="url(#bl)"/>
<rect x="184.4" y="426" width="15.1" height="3.8" rx="1.1" fill="#111" filter="url(#bl)"/>
<rect x="201.3" y="424.2" width="15.9" height="5.4" rx="1.1" fill="#111" filter="url(#bl)"/>
<rect x="219.2" y="423.8" width="15.2" height="5.8" rx="1.1" fill="#111" filter="url(#bl)"/>
<rect x="236.5" y="424.8" width="15.7" height="3.6" rx="1.1" fill="#111" filter="url(#bl)"/>
<path d="M255.5 425.4 L268.5 424.4 Q270.3 424.4 270.3 426.2 Q270.3 428 268.5 428 L255.5 427.1 Q254.7 427.1 254.7 426.25 Q254.7 425.4 255.5 425.4Z" fill="#111" filter="url(#bl)"/>
<rect x="201.3" y="452.3" width="15.4" height="2.6" rx="1.1" fill="#111" filter="url(#bl)"/>
<path d="M220 454.2 C220 450.9 223.5 451.2 226 452.2 L233.8 453.1 L233.8 454.9 L226 455.9 C223.5 457.3 220 457.5 220 454.2Z" fill="#0a0a0a" filter="url(#bl)"/>
<rect x="221" y="466.2" width="14.2" height="4" rx="1.1" fill="#111" filter="url(#bl)"/>
<rect x="164.4" y="481.6" width="18.4" height="5.4" rx="1.1" fill="#111" filter="url(#bl)"/>
<rect x="183.6" y="481.6" width="16.6" height="5.4" rx="1.1" fill="#111" filter="url(#bl)"/>
<rect x="201.3" y="481.6" width="17" height="5.4" rx="1.1" fill="#111" filter="url(#bl)"/>
<rect x="219.5" y="481.6" width="16.3" height="5.4" rx="1.1" fill="#111" filter="url(#bl)"/>
<rect x="236.6" y="481.6" width="16" height="5.4" rx="1.1" fill="#111" filter="url(#bl)"/>
<rect x="253.8" y="481.6" width="17.2" height="5.4" rx="1.1" fill="#111" filter="url(#bl)"/>
<text x="217.5" y="500.8" font-size="8.2" text-anchor="middle" fill="#111" >XIAP KO</text>
<text x="330.2" y="397.1" font-size="8" text-anchor="end" fill="#111" >Quercetin</text>
<text x="330.2" y="406.6" font-size="8" text-anchor="end" fill="#111" >TNF-α</text>
<line x1="338.6" y1="394.5" x2="343" y2="394.5" stroke="#555" stroke-width="1" />
<line x1="340.5" y1="392.3" x2="340.5" y2="396.7" stroke="#555" stroke-width="1" />
<line x1="410.4" y1="394.5" x2="414.8" y2="394.5" stroke="#555" stroke-width="1" />
<line x1="412.5" y1="392.3" x2="412.5" y2="396.7" stroke="#555" stroke-width="1" />
<line x1="356.8" y1="394.5" x2="360.8" y2="394.5" stroke="#5a5a5a" stroke-width="1" />
<line x1="430.8" y1="394.5" x2="434.8" y2="394.5" stroke="#5a5a5a" stroke-width="1" />
<line x1="377.1" y1="394.5" x2="381.5" y2="394.5" stroke="#555" stroke-width="1" />
<line x1="379.5" y1="392.3" x2="379.5" y2="396.7" stroke="#555" stroke-width="1" />
<line x1="451.2" y1="394.5" x2="455.6" y2="394.5" stroke="#555" stroke-width="1" />
<line x1="453.5" y1="392.3" x2="453.5" y2="396.7" stroke="#555" stroke-width="1" />
<line x1="338.8" y1="403.5" x2="342.8" y2="403.5" stroke="#5a5a5a" stroke-width="1" />
<line x1="410.6" y1="403.5" x2="414.6" y2="403.5" stroke="#5a5a5a" stroke-width="1" />
<line x1="356.6" y1="403.5" x2="361" y2="403.5" stroke="#555" stroke-width="1" />
<line x1="358.5" y1="401.3" x2="358.5" y2="405.7" stroke="#555" stroke-width="1" />
<line x1="430.6" y1="403.5" x2="435" y2="403.5" stroke="#555" stroke-width="1" />
<line x1="432.5" y1="401.3" x2="432.5" y2="405.7" stroke="#555" stroke-width="1" />
<line x1="377.1" y1="403.5" x2="381.5" y2="403.5" stroke="#555" stroke-width="1" />
<line x1="379.5" y1="401.3" x2="379.5" y2="405.7" stroke="#555" stroke-width="1" />
<line x1="451.2" y1="403.5" x2="455.6" y2="403.5" stroke="#555" stroke-width="1" />
<line x1="453.5" y1="401.3" x2="453.5" y2="405.7" stroke="#555" stroke-width="1" />
<rect x="330.8" y="421" width="57.7" height="11.8" fill="url(#g1)" />
<rect x="330.8" y="433" width="57.7" height="1.3" fill="#3a3a3a" />
<rect x="330.8" y="434.6" width="57.7" height="28.5" fill="#efefef" />
<rect x="330.8" y="464.1" width="57.7" height="1.7" fill="#3a3a3a" />
<rect x="330.8" y="466.1" width="57.7" height="9.8" fill="#dcdcdc" />
<rect x="330.8" y="476.8" width="57.7" height="2" fill="#3a3a3a" />
<rect x="330.8" y="479.4" width="57.7" height="12.1" fill="#e6e6e6" />
<rect x="331.3" y="425.9" width="15.8" height="2" rx="1" fill="#666" filter="url(#bl)"/>
<rect x="350.6" y="425.1" width="17.3" height="3.6" rx="1.1" fill="#111" filter="url(#bl)"/>
<rect x="370.7" y="425.65" width="16.6" height="2.5" rx="1.1" fill="#333" filter="url(#bl)"/>
<rect x="348.7" y="456" width="14.9" height="2.6" rx="1.1" fill="#222" filter="url(#bl)"/>
<rect x="370.7" y="441.9" width="13.4" height="1.4" rx="0.7" fill="#cfcfcf" filter="url(#bl2)"/>
<rect x="349" y="467.6" width="17.8" height="3.6" rx="1.1" fill="#111" filter="url(#bl)"/>
<rect x="369.5" y="467.6" width="17.3" height="3.6" rx="1.1" fill="#111" filter="url(#bl)"/>
<rect x="331" y="481.2" width="17.4" height="4.2" rx="1.1" fill="#111" filter="url(#bl)"/>
<rect x="349.7" y="481.2" width="19.3" height="4.2" rx="1.1" fill="#111" filter="url(#bl)"/>
<rect x="370.4" y="481.2" width="17.4" height="4.2" rx="1.1" fill="#111" filter="url(#bl)"/>
<text x="359" y="500.9" font-size="8" text-anchor="middle" fill="#111" >Wild type</text>
<rect x="403.9" y="421" width="58.4" height="11.8" fill="url(#g1)" />
<rect x="403.9" y="433" width="58.4" height="1.3" fill="#3a3a3a" />
<rect x="403.9" y="434.6" width="58.4" height="28.6" fill="#efefef" />
<rect x="403.9" y="463.8" width="58.4" height="1.5" fill="#3a3a3a" />
<rect x="403.9" y="465.6" width="58.4" height="10.2" fill="#dadada" />
<rect x="403.9" y="477.1" width="58.4" height="1.9" fill="#3a3a3a" />
<rect x="403.9" y="479.4" width="58.4" height="12.1" fill="#e6e6e6" />
<rect x="405.5" y="425.2" width="15" height="2" rx="1" fill="#777" filter="url(#bl)"/>
<rect x="424.4" y="424.4" width="16.9" height="3.6" rx="1.1" fill="#111" filter="url(#bl)"/>
<rect x="445" y="425.2" width="15.7" height="2" rx="1" fill="#666" filter="url(#bl)"/>
<rect x="425.6" y="454.65" width="14" height="3.3" rx="1.1" fill="#3f3f3f" filter="url(#bl)"/>
<circle cx="427.3" cy="448.6" r="1.3" fill="#111"/>
<rect x="447.3" y="438.35" width="11.1" height="1.3" rx="0.65" fill="#d2d2d2" filter="url(#bl2)"/>
<rect x="426" y="468.7" width="15.8" height="1.6" rx="0.8" fill="#b5b5b5" filter="url(#bl2)"/>
<path d="M445 469.4 C445 467.3 449 467.4 452 468.2 L457 469 L457 469.9 L452 470.6 C449 471.5 445 471.6 445 469.4Z" fill="#111" filter="url(#bl)"/>
<rect x="404.2" y="482.3" width="17.3" height="3.2" rx="1.1" fill="#111" filter="url(#bl)"/>
<rect x="422.3" y="482.3" width="19.3" height="3.2" rx="1.1" fill="#111" filter="url(#bl)"/>
<rect x="443" y="482.3" width="19" height="3.2" rx="1.1" fill="#111" filter="url(#bl)"/>
<text x="432.8" y="500.5" font-size="8" text-anchor="middle" fill="#111" >XIAP KO</text>
<rect x="0.5" y="0.5" width="519" height="507" fill="none" stroke="#000" stroke-width="1"/>
</svg></body></html>
